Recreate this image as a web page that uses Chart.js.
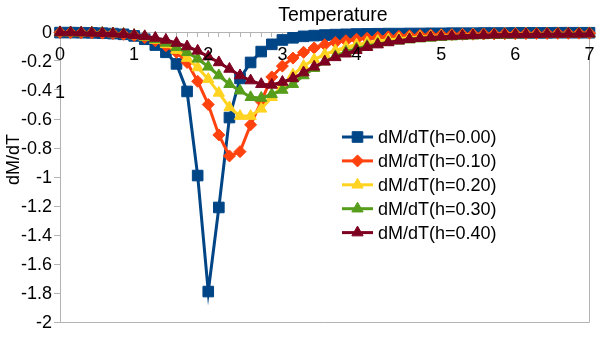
<!DOCTYPE html>
<html>
<head>
<meta charset="utf-8">
<script src="https://cdn.jsdelivr.net/npm/chart.js@4/dist/chart.umd.min.js"></script>
<style>
html,body{margin:0;padding:0;background:#fff;}
#wrap{position:relative;width:607px;height:344px;}
</style>
</head>
<body>
<div id="wrap"><canvas id="c" width="607" height="344"></canvas></div>
<script>
// Categories (temperature)
const temperatures = [0.00,0.14,0.28,0.42,0.56,0.70,0.84,0.98,1.12,1.26,1.40,1.54,1.68,1.82,1.96,2.10,2.24,2.38,2.52,2.66,2.80,2.94,3.08,3.22,3.36,3.50,3.64,3.78,3.92,4.06,4.20,4.34,4.48,4.62,4.76,4.90,5.04,5.18,5.32,5.46,5.60,5.74,5.88,6.02,6.16,6.30,6.44,6.58,6.72,6.86,7.00];
// Which categories carry a visible tick label, and their text
const xLabelIndex = [0,7,14,21,28,36,43,50];
const xLabelText  = ['0','1','2','3','4','5','6','7'];
// Y ticks
const yMin = -2, yMax = 0, yStep = 0.2;

const seriesNames = ['dM/dT(h=0.00)','dM/dT(h=0.10)','dM/dT(h=0.20)','dM/dT(h=0.30)','dM/dT(h=0.40)'];

const h000 = [-0.004,-0.004,-0.005,-0.006,-0.008,-0.011,-0.016,-0.027,-0.05,-0.09,-0.14,-0.22,-0.41,-0.99,-1.79,-1.21,-0.59,-0.32,-0.21,-0.135,-0.085,-0.055,-0.04,-0.03,-0.025,-0.021,-0.018,-0.016,-0.014,-0.013,-0.012,-0.011,-0.011,-0.010,-0.010,-0.009,-0.009,-0.008,-0.008,-0.008,-0.007,-0.007,-0.007,-0.006,-0.006,-0.006,-0.006,-0.005,-0.005,-0.005,-0.005];
const h010 = [-0.003,-0.004,-0.005,-0.006,-0.008,-0.011,-0.016,-0.024,-0.038,-0.06,-0.095,-0.14,-0.21,-0.34,-0.50,-0.71,-0.855,-0.825,-0.64,-0.48,-0.31,-0.235,-0.18,-0.14,-0.11,-0.088,-0.072,-0.06,-0.05,-0.043,-0.037,-0.033,-0.029,-0.026,-0.023,-0.021,-0.019,-0.018,-0.016,-0.015,-0.014,-0.013,-0.012,-0.012,-0.011,-0.010,-0.010,-0.009,-0.009,-0.008,-0.008];
const h020 = [-0.003,-0.004,-0.005,-0.006,-0.008,-0.011,-0.016,-0.024,-0.036,-0.055,-0.085,-0.125,-0.18,-0.245,-0.325,-0.42,-0.52,-0.58,-0.58,-0.53,-0.45,-0.37,-0.295,-0.235,-0.19,-0.155,-0.127,-0.105,-0.087,-0.073,-0.062,-0.053,-0.046,-0.04,-0.035,-0.031,-0.028,-0.025,-0.023,-0.021,-0.019,-0.017,-0.016,-0.015,-0.014,-0.013,-0.012,-0.011,-0.011,-0.010,-0.010];
const h030 = [-0.003,-0.004,-0.005,-0.006,-0.008,-0.011,-0.015,-0.022,-0.033,-0.05,-0.075,-0.105,-0.14,-0.185,-0.24,-0.30,-0.36,-0.405,-0.45,-0.455,-0.43,-0.40,-0.36,-0.30,-0.25,-0.205,-0.168,-0.138,-0.115,-0.097,-0.083,-0.071,-0.061,-0.053,-0.046,-0.041,-0.036,-0.032,-0.029,-0.026,-0.024,-0.022,-0.020,-0.018,-0.017,-0.016,-0.015,-0.014,-0.013,-0.012,-0.011];
const h040 = [-0.003,-0.004,-0.005,-0.007,-0.009,-0.012,-0.016,-0.022,-0.03,-0.041,-0.055,-0.076,-0.10,-0.13,-0.17,-0.21,-0.255,-0.30,-0.335,-0.36,-0.365,-0.345,-0.32,-0.28,-0.24,-0.205,-0.175,-0.15,-0.125,-0.105,-0.087,-0.072,-0.06,-0.05,-0.043,-0.037,-0.032,-0.028,-0.025,-0.023,-0.021,-0.019,-0.018,-0.017,-0.016,-0.015,-0.014,-0.014,-0.013,-0.013,-0.012];

const colors = ['#004586','#ff420e','#ffd320','#579d1c','#7e0021'];
const styles = ['rect','rectRot','triangle','triangle','triangle'];
const radii  = [7.5, 6, 6.5, 6.5, 6.5];
const values = [h000, h010, h020, h030, h040];

const FONT = '"Liberation Sans", Arial, sans-serif';

const datasets = values.map((v, i) => ({
  label: seriesNames[i],
  data: v,
  borderColor: colors[i],
  backgroundColor: colors[i],
  pointBackgroundColor: colors[i],
  pointBorderColor: colors[i],
  pointStyle: styles[i],
  pointRadius: radii[i],
  pointBorderWidth: 1,
  borderWidth: 3,
  tension: 0,
  clip: false,
  order: values.length - i
}));

const framePlugin = {
  id: 'frame',
  beforeDatasetsDraw(chart) {
    const {ctx, chartArea: a} = chart;
    ctx.save();
    ctx.strokeStyle = '#b3b3b3';
    ctx.lineWidth = 1;
    ctx.beginPath();
    ctx.moveTo(Math.round(a.right) + 0.5, a.top);
    ctx.lineTo(Math.round(a.right) + 0.5, Math.round(a.bottom) + 0.5);
    ctx.lineTo(a.left, Math.round(a.bottom) + 0.5);
    ctx.stroke();
    ctx.restore();
  }
};

const legendPlugin = {
  id: 'insideLegend',
  afterDraw(chart) {
    const {ctx, chartArea: a} = chart;
    const x0 = a.left + 282, y0 = a.top + 105, rowH = 23.9;
    ctx.save();
    ctx.font = '18px ' + FONT;
    ctx.textBaseline = 'middle';
    ctx.textAlign = 'left';
    chart.data.datasets.forEach((ds, i) => {
      const y = y0 + i * rowH;
      ctx.strokeStyle = ds.borderColor;
      ctx.fillStyle = ds.backgroundColor;
      ctx.lineWidth = 3;
      ctx.beginPath();
      ctx.moveTo(x0, y);
      ctx.lineTo(x0 + 31, y);
      ctx.stroke();
      ctx.lineWidth = 1;
      Chart.helpers.drawPoint(ctx, {pointStyle: ds.pointStyle, radius: ds.pointRadius, borderWidth: 1, rotation: 0}, x0 + 15.5, y);
      ctx.fillStyle = '#000';
      ctx.fillText(ds.label, x0 + 36, y + 1);
    });
    ctx.restore();
  }
};

const strayPlugin = {
  id: 'stray',
  afterDraw(chart) {
    const {ctx, chartArea: a} = chart;
    ctx.save();
    ctx.font = '18px ' + FONT;
    ctx.fillStyle = '#000';
    ctx.textAlign = 'center';
    ctx.textBaseline = 'middle';
    ctx.fillText('1', a.left, a.top + 61);
    ctx.restore();
  }
};

new Chart(document.getElementById('c'), {
  type: 'line',
  data: { labels: temperatures, datasets },
  options: {
    responsive: false,
    animation: false,
    devicePixelRatio: 1,
    layout: { padding: { left: 0, right: 16, top: 0, bottom: 22 } },
    plugins: { legend: { display: false }, tooltip: { enabled: false } },
    scales: {
      x: {
        type: 'category',
        position: 'top',
        offset: false,
        grid: { drawOnChartArea: false, drawTicks: true, tickLength: -5, color: '#b3b3b3' },
        border: { display: true, color: '#b3b3b3', width: 1 },
        ticks: {
          autoSkip: false,
          mirror: true,
          z: 1,
          maxRotation: 0,
          minRotation: 0,
          padding: 12.5,
          color: '#000',
          font: { family: FONT, size: 18 },
          callback: (val, index) => {
            const k = xLabelIndex.indexOf(index);
            return k >= 0 ? xLabelText[k] : '';
          }
        },
        title: {
          display: true,
          text: '   Temperature',
          color: '#000',
          font: { family: FONT, size: 19.5 },
          padding: { top: 4, bottom: 0 }
        },
        afterFit: (s) => { s.height = 32; }
      },
      y: {
        type: 'linear',
        position: 'left',
        min: yMin,
        max: yMax,
        grid: { drawOnChartArea: false, drawTicks: true, tickLength: 6, color: '#b3b3b3' },
        border: { display: true, color: '#b3b3b3', width: 1 },
        ticks: {
          stepSize: yStep,
          padding: 2,
          labelOffset: 1.5,
          color: '#000',
          font: { family: FONT, size: 18 },
          callback: (v) => String(Number(v.toFixed(1)))
        },
        title: {
          display: true,
          text: '       dM/dT',
          color: '#000',
          font: { family: FONT, size: 18 },
          padding: { top: 3, bottom: 0 }
        },
        afterFit: (s) => { s.width = 60; }
      }
    }
  },
  plugins: [framePlugin, legendPlugin, strayPlugin]
});
</script>
</body>
</html>
